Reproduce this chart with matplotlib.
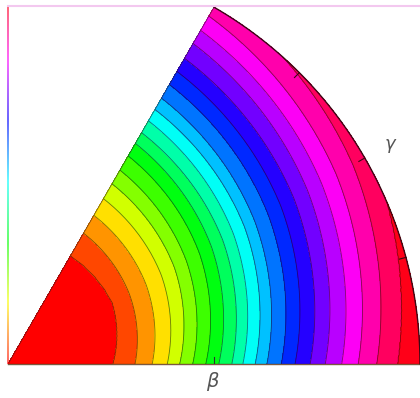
import numpy as np
import matplotlib.pyplot as plt
from matplotlib.lines import Line2D

beta_max = 0.6
gamma_deg = [0, 30, 60]
gamma_ticks = [15, 30, 45]
beta_ticks = [0.3]

# positions (in beta) of the 20 contour levels along gamma = 0, 30 and 60 deg
beta_at_g0 = [0.153, 0.185, 0.210, 0.232, 0.250, 0.269, 0.288, 0.307, 0.326, 0.342,
              0.360, 0.377, 0.398, 0.418, 0.440, 0.462, 0.486, 0.510, 0.537, 0.567]
beta_at_g30 = [0.176, 0.204, 0.232, 0.258, 0.280, 0.300, 0.322, 0.342, 0.361, 0.379,
               0.398, 0.415, 0.437, 0.459, 0.481, 0.504, 0.527, 0.552, 0.580, 0.609]
beta_at_g60 = [0.182, 0.220, 0.250, 0.278, 0.303, 0.326, 0.350, 0.371, 0.389, 0.409,
               0.428, 0.447, 0.470, 0.492, 0.514, 0.539, 0.561, 0.585, 0.613, 0.644]

n_lev = len(beta_at_g0)
edges = np.array([beta_at_g0, beta_at_g30, beta_at_g60])

# polar mesh over the (beta, gamma) sector
b = np.linspace(0, beta_max, 400)
g = np.linspace(0, 60, 181)
B, G = np.meshgrid(b, g)
Z = np.empty_like(B)
for j, gj in enumerate(g):
    row = [np.interp(gj, gamma_deg, edges[:, k]) for k in range(n_lev)]
    Z[j] = np.interp(b, [0] + row + [1.0], np.arange(n_lev + 2))
X = B * np.cos(np.radians(G))
Y = B * np.sin(np.radians(G))

levels = np.arange(n_lev + 2)
colors = plt.cm.hsv(np.linspace(0, 1, n_lev + 1))

fig = plt.figure(figsize=(4.2, 3.98), dpi=100)
ax = fig.add_axes([8 / 420, 34 / 398, 412 / 420, 357 / 398])
cf = ax.contourf(X, Y, Z, levels=levels, colors=colors)
ax.contour(X, Y, Z, levels=levels[1:-1], colors='#1a0a0a', linewidths=0.6, alpha=0.55)

# sector outline
t = np.radians(np.linspace(0, 60, 200))
ax.plot(beta_max * np.cos(t), beta_max * np.sin(t), color='#3a0a14', lw=1.0, clip_on=False)
ax.plot([0, beta_max * np.cos(np.radians(60))], [0, beta_max * np.sin(np.radians(60))],
        color='#3a2020', lw=0.6, alpha=0.7)
ax.plot([0, beta_max], [0, 0], color='#5a3010', lw=1.0, alpha=0.8, clip_on=False)

# small ticks
for gt in gamma_ticks:
    c, s = np.cos(np.radians(gt)), np.sin(np.radians(gt))
    ax.plot([beta_max * c, (beta_max - 0.01) * c], [beta_max * s, (beta_max - 0.01) * s],
            color='#3a0a14', lw=0.8)
for bt in beta_ticks:
    ax.plot([bt, bt], [0, 0.01], color='#303030', lw=0.8)

ax.text(0.298, -0.012, 'β', ha='center', va='top', fontsize=14, style='italic', color='#555555')
gl = np.radians(30)
ax.text(0.642 * np.cos(gl), 0.642 * np.sin(gl), 'γ', ha='center', va='center',
        fontsize=13, style='italic', color='#555555')

ax.set_xlim(0, beta_max)
ax.set_ylim(0, beta_max * 357 / 412)
ax.axis('off')

# thin colour strip on the left edge
cax = fig.add_axes([7 / 420, 34 / 398, 2 / 420, 359 / 398])
cax.imshow(np.linspace(0, 0.92, 256)[:, None], cmap='hsv', aspect='auto', origin='lower', alpha=0.6)
cax.axis('off')
fig.add_artist(Line2D([8 / 420, 1], [392 / 398, 392 / 398], color='#f3c8ef', lw=1.5))

fig.savefig('out.png', dpi=100)
